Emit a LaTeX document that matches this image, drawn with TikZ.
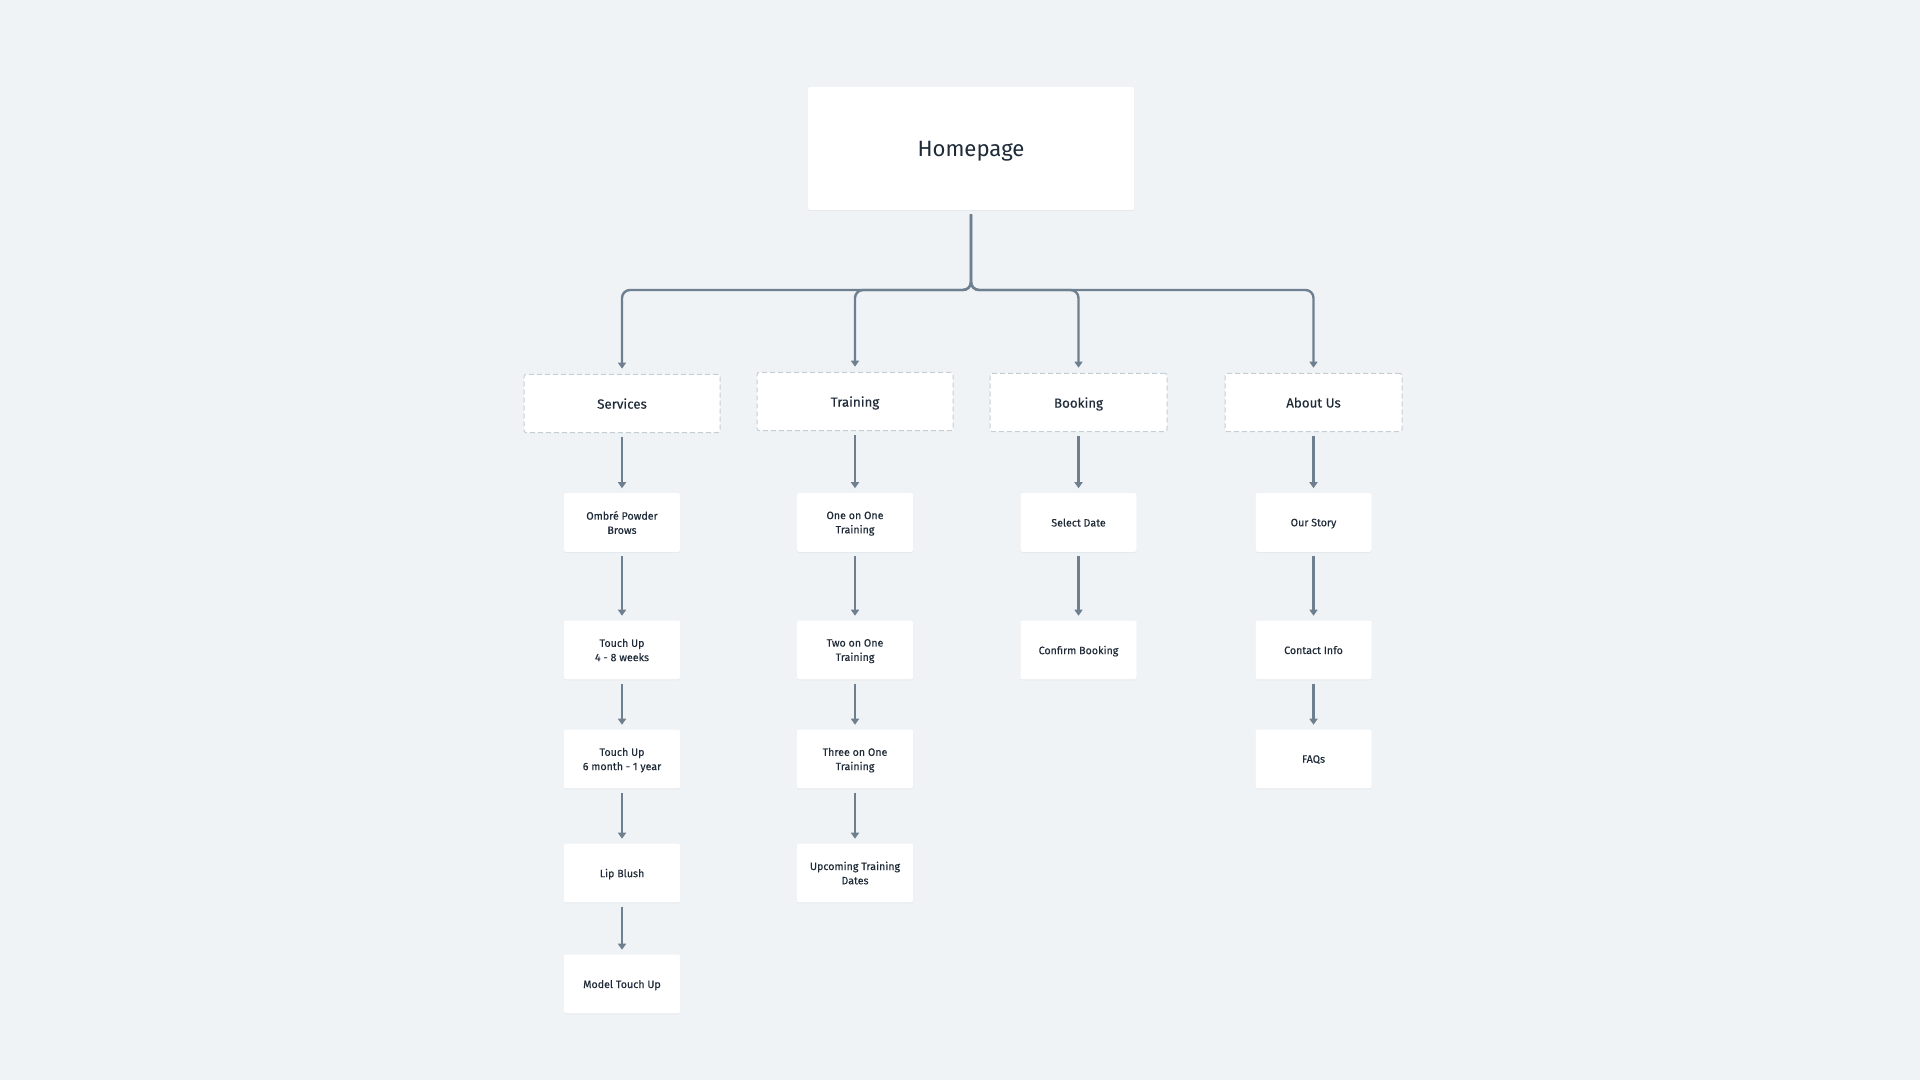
\documentclass[tikz,border=0pt]{standalone}
\usepackage{fontspec}
\setmainfont{Fira Sans}
\newfontfamily\medfont[FakeBold=0.25]{Fira Sans}
\usetikzlibrary{arrows.meta,shadows}
\definecolor{bg}{HTML}{EFF3F6}
\definecolor{connc}{HTML}{6E7F8F}
\definecolor{dashc}{HTML}{C5CDD5}
\definecolor{ink}{HTML}{1F2B38}
\definecolor{shadowc}{HTML}{E4E9ED}
\begin{document}
\begin{tikzpicture}[x=0.75pt,y=-0.75pt,
 card/.style={fill=white, rounded corners=1.5pt, inner sep=0pt, text=ink, align=center, text depth=0pt},
 shadowed/.style={copy shadow={shadow xshift=0pt,shadow yshift=-0.75pt,fill=shadowc,draw=none}},
 homebox/.style={card, shadowed, minimum width=244.5pt, minimum height=92.25pt, font=\fontsize{16.6}{20}\selectfont},
 secbox/.style={card, draw=dashc, line width=0.75pt, dash pattern=on 3.75pt off 2.25pt, minimum height=43.5pt, font=\medfont\fontsize{10}{12}\selectfont},
 pagebox/.style={card, shadowed, minimum width=87pt, minimum height=44pt, font=\medfont\fontsize{8}{10.7}\selectfont},
 link/.style={draw=connc, line width=1.8pt, -{Triangle[width=6pt,length=4.5pt]}, shorten <=3pt, shorten >=3.5pt}]
\fill[bg] (0,0) rectangle (1920,1080);
\useasboundingbox (0,0) rectangle (1920,1080);

\node[homebox] (home) at (971,148.5) {Homepage};

\node[secbox, minimum width=147pt] (svc) at (622,403.5) {Services};
\node[secbox, minimum width=147pt] (trn) at (855,401.5) {Training};
\node[secbox, minimum width=132.75pt] (bok) at (1078.5,402.5) {Booking};
\node[secbox, minimum width=132.75pt] (abt) at (1313.5,402.5) {About Us};

% Services column
\node[pagebox] (s1) at (622,522.5) {Ombré Powder\\Brows};
\node[pagebox] (s2) at (622,650) {Touch Up\\4 - 8 weeks};
\node[pagebox] (s3) at (622,759) {Touch Up\\6 month - 1 year};
\node[pagebox] (s4) at (622,873) {Lip Blush};
\node[pagebox] (s5) at (622,984) {Model Touch Up};
% Training column
\node[pagebox] (t1) at (855,522.5) {One on One\\Training};
\node[pagebox] (t2) at (855,650) {Two on One\\Training};
\node[pagebox] (t3) at (855,759) {Three on One\\Training};
\node[pagebox] (t4) at (855,873) {Upcoming Training\\Dates};
% Booking column
\node[pagebox] (b1) at (1078.5,522.5) {Select Date};
\node[pagebox] (b2) at (1078.5,650) {Confirm Booking};
% About column
\node[pagebox] (a1) at (1313.5,522.5) {Our Story};
\node[pagebox] (a2) at (1313.5,650) {Contact Info};
\node[pagebox] (a3) at (1313.5,759) {FAQs};

% top-level connectors
\coordinate (split) at (971,290);
\foreach \n in {svc,trn,bok,abt}
  \draw[link, rounded corners=6pt, shorten >=4pt] (home.south) -- (split) -- (split -| \n.north) -- (\n.north);

% column connectors
\draw[link] (svc.south) -- (s1.north);
\draw[link] (s1.south) -- (s2.north);
\draw[link] (s2.south) -- (s3.north);
\draw[link] (s3.south) -- (s4.north);
\draw[link] (s4.south) -- (s5.north);

\draw[link] (trn.south) -- (t1.north);
\draw[link] (t1.south) -- (t2.north);
\draw[link] (t2.south) -- (t3.north);
\draw[link] (t3.south) -- (t4.north);

\draw[link] (bok.south) -- (b1.north);
\draw[link] (b1.south) -- (b2.north);

\draw[link] (abt.south) -- (a1.north);
\draw[link] (a1.south) -- (a2.north);
\draw[link] (a2.south) -- (a3.north);
\end{tikzpicture}
\end{document}
